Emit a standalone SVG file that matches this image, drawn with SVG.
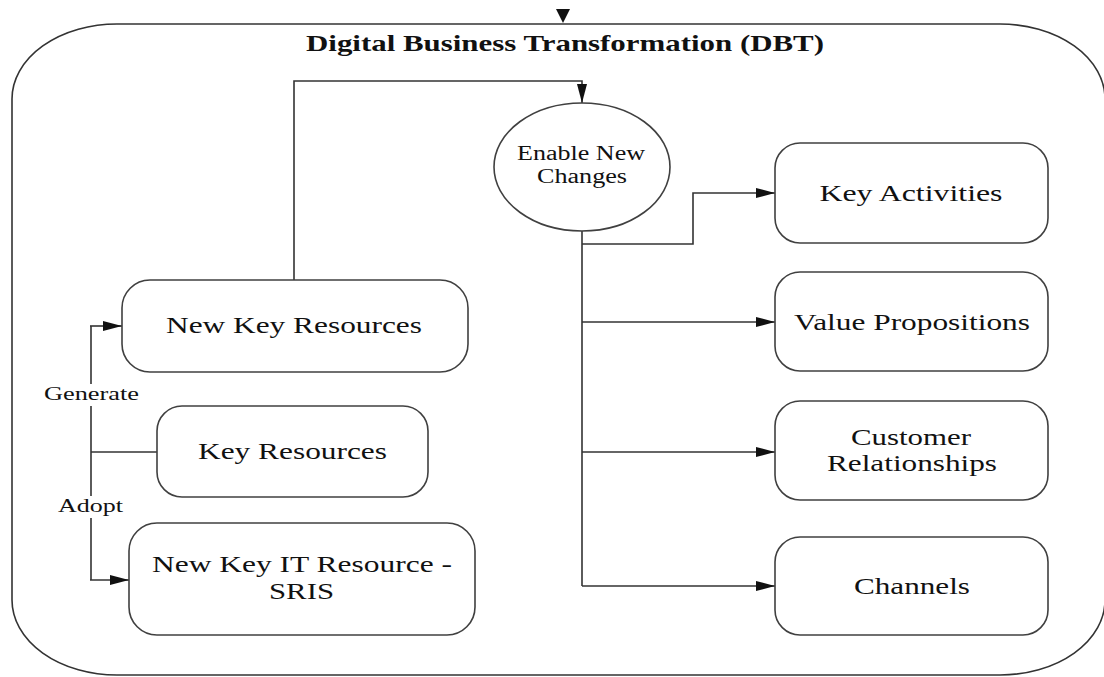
<svg xmlns="http://www.w3.org/2000/svg" width="1104" height="677" viewBox="0 0 1104 677">
<style>
.box{fill:#fff;stroke:#404040;stroke-width:1.6}
.line{fill:none;stroke:#333;stroke-width:1.6}
.t{font-family:"Liberation Serif","Times New Roman",serif;fill:#111;text-anchor:middle}
.bt{font-size:23px}
.ct{font-size:20px}
.lt{font-size:18px}
.title{font-size:24px;font-weight:bold}
</style>
<defs>
<marker id="arr" markerUnits="userSpaceOnUse" markerWidth="20" markerHeight="12" refX="19" refY="5" orient="auto">
<path d="M0,0 L19,5 L0,10 Z" fill="#111"/>
</marker>
</defs>
<rect x="0" y="0" width="1104" height="677" fill="#fff"/>
<g id="container">
<rect x="12" y="24" width="1093" height="651" rx="105" ry="75" fill="none" stroke="#333" stroke-width="1.6"/>
<path d="M556,9 L570,9 L563,23 Z" fill="#111"/>
<text class="t title" x="565" y="51" textLength="518" lengthAdjust="spacingAndGlyphs">Digital Business Transformation (DBT)</text>
</g>
<g id="connectors">
<polyline class="line" points="294,280 294,81 582,81 582,103" marker-end="url(#arr)"/>
<line class="line" x1="582" y1="231" x2="582" y2="586"/>
<polyline class="line" points="582,244 693,244 693,193 775,193" marker-end="url(#arr)"/>
<line class="line" x1="582" y1="322" x2="775" y2="322" marker-end="url(#arr)"/>
<line class="line" x1="582" y1="452" x2="775" y2="452" marker-end="url(#arr)"/>
<polyline class="line" points="582,586 775,586" marker-end="url(#arr)"/>
<line class="line" x1="91" y1="326" x2="91" y2="580"/>
<line class="line" x1="90" y1="326" x2="122" y2="326" marker-end="url(#arr)"/>
<line class="line" x1="90" y1="580" x2="129" y2="580" marker-end="url(#arr)"/>
<line class="line" x1="91" y1="452" x2="157" y2="452"/>
<g id="label-generate">
<rect x="44" y="384" width="96" height="22" fill="#fff"/>
<text class="t lt" x="91.5" y="400" textLength="95" lengthAdjust="spacingAndGlyphs">Generate</text>
</g>
<g id="label-adopt">
<rect x="57" y="496" width="67" height="22" fill="#fff"/>
<text class="t lt" x="90.5" y="512" textLength="65" lengthAdjust="spacingAndGlyphs">Adopt</text>
</g>
</g>
<g id="enable-new-changes">
<ellipse class="box" cx="582" cy="167" rx="88" ry="64"/>
<text class="t ct" x="581" y="160" textLength="128" lengthAdjust="spacingAndGlyphs">Enable New</text>
<text class="t ct" x="582" y="183" textLength="90" lengthAdjust="spacingAndGlyphs">Changes</text>
</g>
<g id="new-key-resources">
<rect class="box" x="122" y="280" width="346" height="92" rx="28" ry="28"/>
<text class="t bt" x="294" y="333" textLength="256" lengthAdjust="spacingAndGlyphs">New Key Resources</text>
</g>
<g id="key-resources">
<rect class="box" x="157" y="406" width="271" height="91" rx="25" ry="25"/>
<text class="t bt" x="292.5" y="459" textLength="189" lengthAdjust="spacingAndGlyphs">Key Resources</text>
</g>
<g id="new-key-it-resource">
<rect class="box" x="129" y="523" width="346" height="112" rx="28" ry="28"/>
<text class="t bt" x="302" y="572" textLength="300" lengthAdjust="spacingAndGlyphs">New Key IT Resource -</text>
<text class="t bt" x="301.5" y="599" textLength="65" lengthAdjust="spacingAndGlyphs">SRIS</text>
</g>
<g id="key-activities">
<rect class="box" x="775" y="143" width="273" height="100" rx="25" ry="25"/>
<text class="t bt" x="911" y="201" textLength="183" lengthAdjust="spacingAndGlyphs">Key Activities</text>
</g>
<g id="value-propositions">
<rect class="box" x="775" y="272" width="273" height="99" rx="25" ry="25"/>
<text class="t bt" x="912" y="330" textLength="236" lengthAdjust="spacingAndGlyphs">Value Propositions</text>
</g>
<g id="customer-relationships">
<rect class="box" x="775" y="401" width="273" height="99" rx="25" ry="25"/>
<text class="t bt" x="911" y="445" textLength="120" lengthAdjust="spacingAndGlyphs">Customer</text>
<text class="t bt" x="912" y="471" textLength="170" lengthAdjust="spacingAndGlyphs">Relationships</text>
</g>
<g id="channels">
<rect class="box" x="775" y="537" width="273" height="98" rx="25" ry="25"/>
<text class="t bt" x="912" y="594" textLength="116" lengthAdjust="spacingAndGlyphs">Channels</text>
</g>
</svg>
